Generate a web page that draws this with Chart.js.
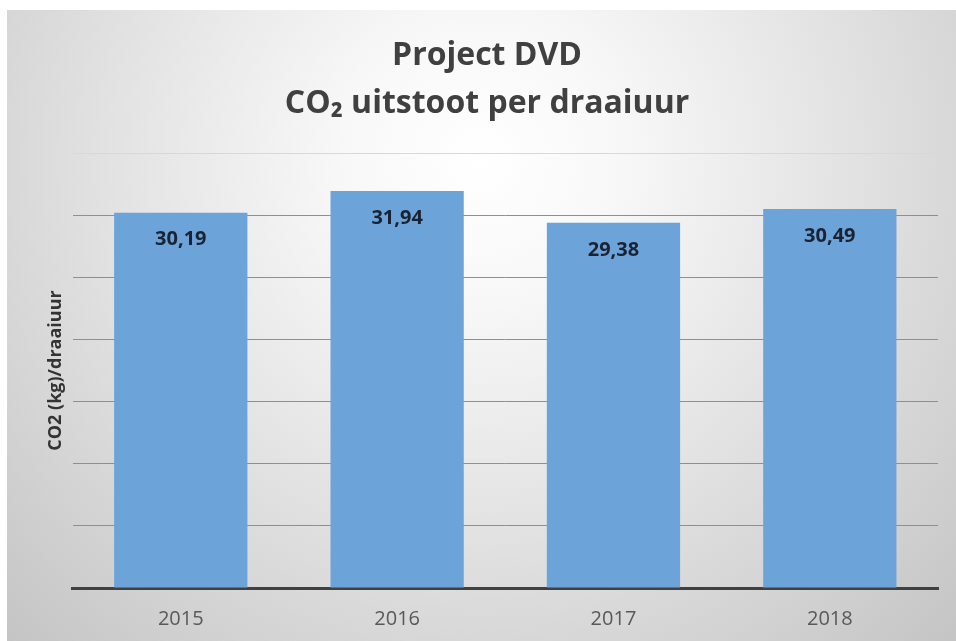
<!DOCTYPE html>
<html>
<head>
<meta charset="utf-8">
<script src="https://cdn.jsdelivr.net/npm/chart.js@4/dist/chart.umd.min.js"></script>
<style>
  html, body { margin: 0; padding: 0; background: #ffffff; }
  #wrap { width: 956px; height: 641px; }
</style>
</head>
<body>
<div id="wrap"><canvas id="c" width="956" height="641"></canvas></div>
<script>
const categories = ['2015', '2016', '2017', '2018'];
const values = [30.19, 31.94, 29.38, 30.49];
const titleLines = ['Project DVD', 'CO\u2082 uitstoot per draaiuur'];
const yAxisTitle = 'CO2 (kg)/draaiuur';
const yMin = 0, yMax = 35, yStep = 5;

const fmt = v => v.toFixed(2).replace('.', ',');

const bgPlugin = {
  id: 'bg',
  beforeDraw(chart) {
    const ctx = chart.ctx;
    const w = chart.width, h = chart.height;
    ctx.save();
    ctx.fillStyle = '#ffffff';
    ctx.fillRect(0, 0, w, h);
    const g = ctx.createRadialGradient(480, 160, 0, 480, 160, 680);
    g.addColorStop(0, '#ffffff');
    g.addColorStop(0.2, '#f8f8f8');
    g.addColorStop(0.55, '#e2e2e2');
    g.addColorStop(1, '#c4c4c4');
    ctx.fillStyle = g;
    ctx.fillRect(7, 10, w - 7, h - 10);
    ctx.restore();
  }
};

const labelPlugin = {
  id: 'vlabels',
  afterDatasetsDraw(chart) {
    const ctx = chart.ctx;
    const meta = chart.getDatasetMeta(0);
    ctx.save();
    ctx.font = 'bold 20px "Open Sans"';
    ctx.fillStyle = '#1b2333';
    ctx.textAlign = 'center';
    ctx.textBaseline = 'middle';
    meta.data.forEach((bar, i) => {
      ctx.fillText(fmt(chart.data.datasets[0].data[i]), bar.x, bar.y + 27);
    });
    ctx.restore();
  }
};

new Chart(document.getElementById('c'), {
  type: 'bar',
  data: {
    labels: categories,
    datasets: [{
      data: values,
      backgroundColor: '#6ca3d9',
      borderWidth: 0,
      categoryPercentage: 1,
      barPercentage: 0.616
    }]
  },
  options: {
    responsive: false,
    animation: false,
    devicePixelRatio: 1,
    layout: { padding: { left: 36, right: 18, top: 0, bottom: -9 } },
    plugins: {
      legend: { display: false },
      tooltip: { enabled: false },
      title: {
        display: true,
        text: titleLines,
        color: '#404040',
        font: { family: '"Open Sans"', size: 32, weight: 'bold', lineHeight: 1.5 },
        padding: { top: 32, bottom: 25 }
      }
    },
    scales: {
      x: {
        z: 1,
        grid: { display: false, drawTicks: false },
        border: { display: true, color: '#404040', width: 3 },
        ticks: {
          color: '#595959',
          padding: 30,
          font: { family: '"Open Sans"', size: 20, lineHeight: 0.1 }
        }
      },
      y: {
        min: yMin,
        max: yMax,
        ticks: { display: false, stepSize: yStep },
        border: { display: false },
        grid: {
          drawTicks: false,
          lineWidth: 1,
          color: ctx => {
            const v = ctx.tick ? ctx.tick.value : null;
            if (v === yMin) return 'rgba(0,0,0,0)';
            if (v === yMax) return '#d8d8d8';
            return '#8f8f8f';
          }
        },
        title: {
          display: true,
          text: yAxisTitle,
          color: '#333333',
          font: { family: '"Open Sans"', size: 18, weight: 'bold', lineHeight: 1.2 },
          padding: { top: 9, bottom: 6 }
        }
      }
    }
  },
  plugins: [bgPlugin, labelPlugin]
});
</script>
</body>
</html>
